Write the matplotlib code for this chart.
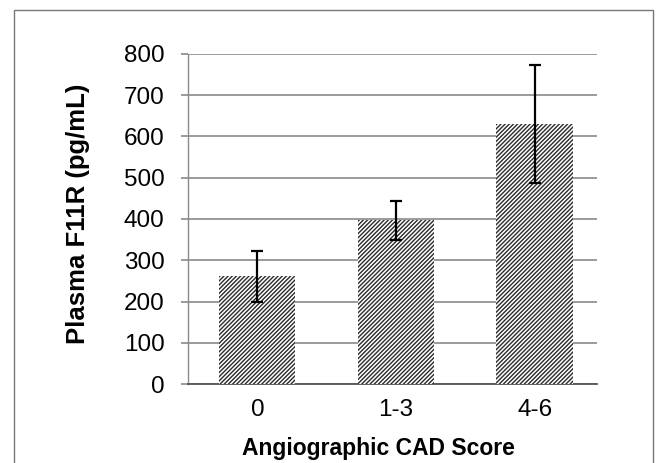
import matplotlib
matplotlib.use("Agg")
import matplotlib.pyplot as plt
from matplotlib.patches import Rectangle

# 데이터
categories = ["0", "1-3", "4-6"]
means = [261, 397, 631]
errors = [62, 47, 143]
y_ticks = [0, 100, 200, 300, 400, 500, 600, 700, 800]

plt.rcParams['font.family'] = ['Liberation Sans', 'DejaVu Sans']
plt.rcParams['hatch.linewidth'] = 1.0

fig = plt.figure(figsize=(6.58, 4.63), dpi=100)
ax = fig.add_axes([0.2857, 0.1706, 0.6216, 0.7128])

x = list(range(len(categories)))
ax.bar(x, means, width=0.55, color='white', edgecolor='#2a2a2a', linewidth=0,
       hatch='////////', zorder=3)
ax.errorbar(x, means, yerr=errors, fmt='none', ecolor='black', elinewidth=1.6,
            capsize=4, capthick=1.6, zorder=4)

ax.set_xlim(-0.5, 2.45)
ax.set_ylim(0, 800)
ax.set_yticks(y_ticks)
ax.set_xticks(x)
ax.set_xticklabels(categories)

# 눈금선
ax.yaxis.grid(True, color='#8a8a8a', linewidth=1.2, zorder=1)
ax.set_axisbelow(True)

for s in ['top', 'right']:
    ax.spines[s].set_visible(False)
ax.spines['left'].set_color('#8a8a8a')
ax.spines['left'].set_linewidth(1.0)
ax.spines['bottom'].set_color('#555555')
ax.spines['bottom'].set_linewidth(1.3)

ax.tick_params(axis='y', length=5, width=1.2, color='#8a8a8a', labelsize=17.5, pad=12)
ax.tick_params(axis='x', length=0, labelsize=17.5, pad=11)

ax.set_ylabel("Plasma F11R (pg/mL)", fontsize=18.5, fontweight='bold')
ax.set_xlabel("Angiographic CAD Score", fontsize=16.5, fontweight='bold')
ax.yaxis.set_label_coords(-0.24, 0.517)
ax.xaxis.set_label_coords(0.465, -0.16)

# 바깥 테두리
fig.add_artist(Rectangle((14 / 658, -0.05), (653 - 14) / 658, 1 - 10.5 / 463 + 0.05,
                         transform=fig.transFigure, fill=False,
                         edgecolor='#777777', linewidth=1.0))

plt.savefig("out.png", dpi=100)
plt.close()
